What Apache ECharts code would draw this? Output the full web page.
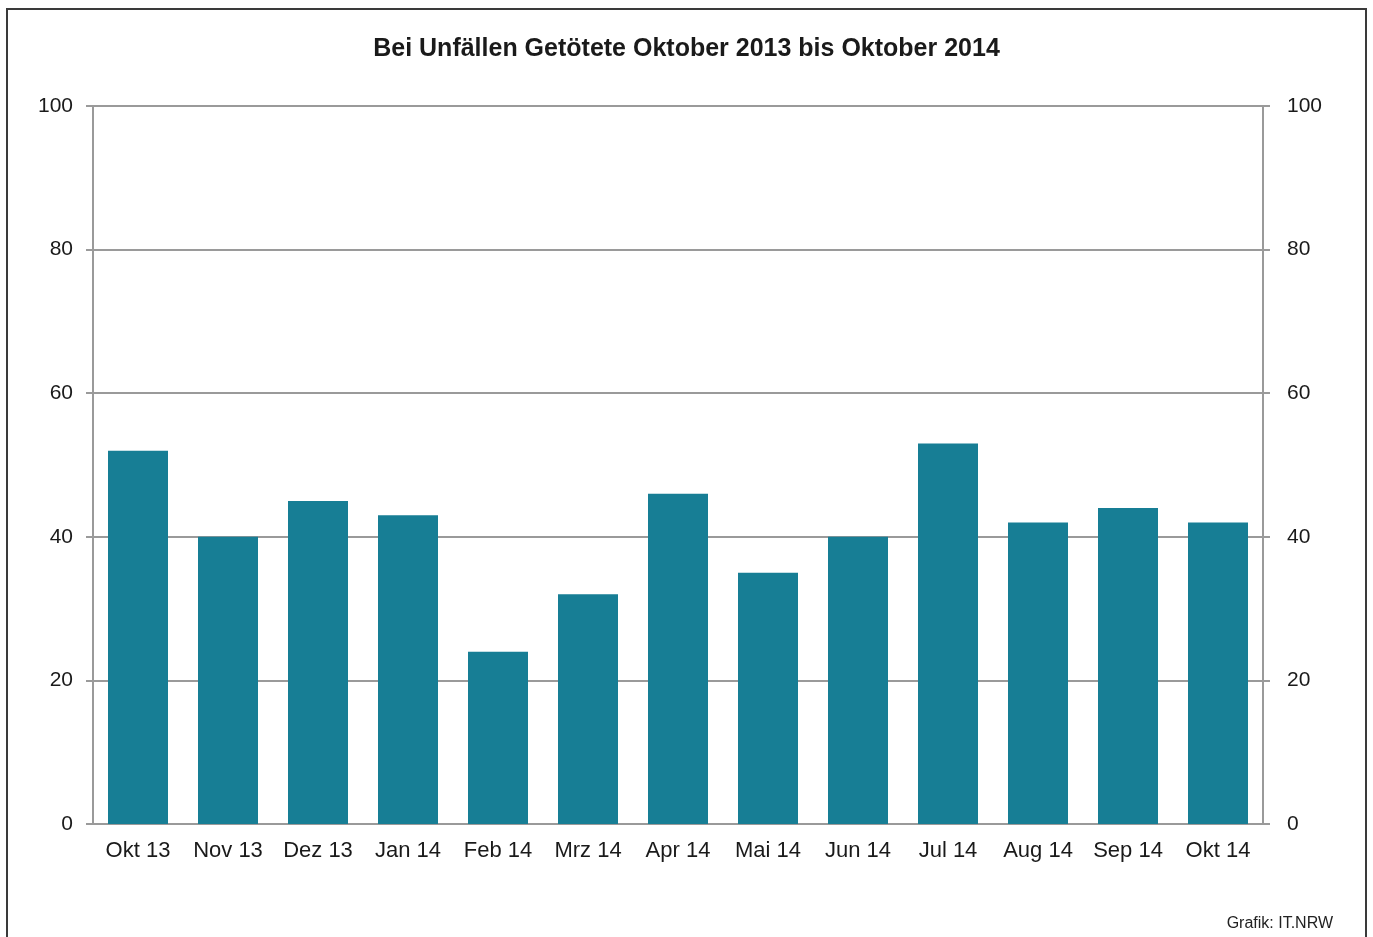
<!DOCTYPE html>
<html>
<head>
<meta charset="utf-8" />
<title>Bei Unfällen Getötete</title>
<script src="https://cdn.jsdelivr.net/npm/echarts@6/dist/echarts.min.js"></script>
<style>
  html, body { margin: 0; padding: 0; background: #fff; }
  #chart { width: 1373px; height: 937px; }
</style>
</head>
<body>
<div id="chart"></div>
<script>
var months = ['Okt 13', 'Nov 13', 'Dez 13', 'Jan 14', 'Feb 14', 'Mrz 14', 'Apr 14', 'Mai 14', 'Jun 14', 'Jul 14', 'Aug 14', 'Sep 14', 'Okt 14'];
var killed = [52, 40, 45, 43, 24, 32, 46, 35, 40, 53, 42, 44, 42];
var yTicks = [0, 20, 40, 60, 80, 100];

var font = 'Liberation Sans, Arial, sans-serif';
var grey = '#9a9a9a';

var chart = echarts.init(document.getElementById('chart'));

var yAxisBase = {
  type: 'value',
  min: yTicks[0],
  max: yTicks[yTicks.length - 1],
  interval: yTicks[1] - yTicks[0],
  axisLine: { show: true, lineStyle: { color: grey, width: 2 } },
  axisTick: { show: true, length: 7, lineStyle: { color: grey, width: 2 } }
};

var option = {
  animation: false,
  textStyle: { fontFamily: font },
  title: {
    text: 'Bei Unfällen Getötete Oktober 2013 bis Oktober 2014',
    left: 'center',
    top: 32,
    textStyle: { fontFamily: font, fontSize: 25, fontWeight: 'bold', color: '#1a1a1a' }
  },
  graphic: [
    {
      type: 'rect',
      shape: { x: 7, y: 9, width: 1359, height: 940 },
      style: { fill: 'none', stroke: '#3a3a3a', lineWidth: 2 }
    },
    {
      type: 'text',
      right: 40,
      top: 916,
      style: { text: 'Grafik: IT.NRW', font: '16px ' + font, fill: '#222' }
    }
  ],
  grid: { left: 93, right: 110, top: 106, bottom: 113 },
  xAxis: {
    type: 'category',
    data: months,
    axisLine: { lineStyle: { color: grey, width: 2 } },
    axisTick: { show: false },
    axisLabel: { interval: 0, fontSize: 22, color: '#1a1a1a', margin: 16 }
  },
  yAxis: [
    Object.assign({}, yAxisBase, {
      position: 'left',
      axisLabel: { fontSize: 21, color: '#1a1a1a', margin: 20 },
      splitLine: { show: true, lineStyle: { color: grey, width: 2 } }
    }),
    Object.assign({}, yAxisBase, {
      position: 'right',
      axisLabel: { fontSize: 21, color: '#1a1a1a', margin: 24 },
      splitLine: { show: false }
    })
  ],
  series: [{
    type: 'bar',
    data: killed,
    barWidth: 60,
    itemStyle: { color: '#177e95' }
  }]
};

chart.setOption(option);
</script>
</body>
</html>
